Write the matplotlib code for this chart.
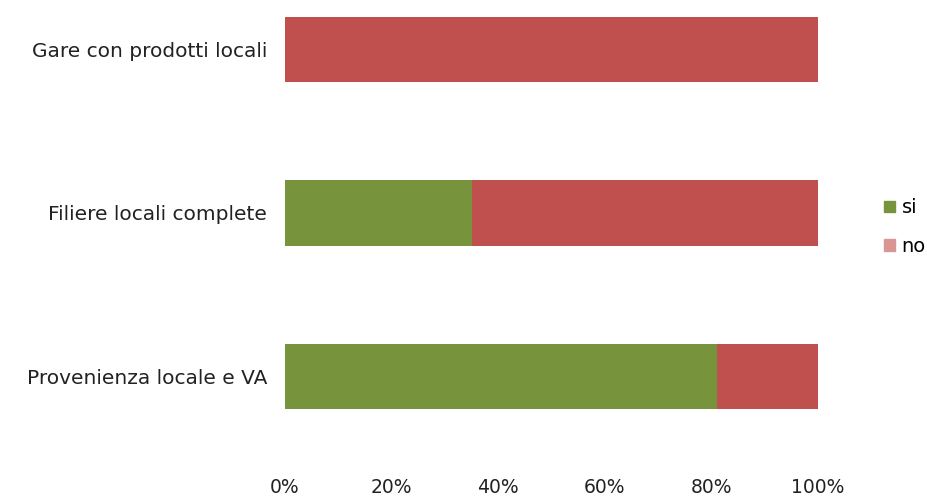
import matplotlib
matplotlib.use("Agg")
import matplotlib.pyplot as plt

categories = ["Provenienza locale e VA", "Filiere locali complete", "Gare con prodotti locali"]
si = [81, 35, 0]
no = [19, 65, 100]
xticks = [0, 20, 40, 60, 80, 100]
xticklabels = ["0%", "20%", "40%", "60%", "80%", "100%"]

plt.rcParams['font.family'] = ['DejaVu Sans']

W, H = 928, 496
fig = plt.figure(figsize=(W / 100, H / 100), dpi=100)
ax = fig.add_axes([285 / W, 36 / H, (818 - 285) / W, 460 / H])

green = "#77933C"
red = "#C0504D"
pos = list(range(len(categories)))
ax.barh(pos, si, height=0.4, color=green, label="si")
ax.barh(pos, no, left=si, height=0.4, color=red, label="no")

ax.set_xlim(0, 100)
ax.set_ylim(-0.511, 2.303)
ax.set_yticks(pos)
ax.set_yticklabels(categories, fontsize=14.5, color="#222222")
ax.set_xticks(xticks)
ax.set_xticklabels(xticklabels, fontsize=13.5, color="#222222")
ax.tick_params(axis="both", length=0)
ax.tick_params(axis="y", pad=13)
ax.tick_params(axis="x", pad=13)
for s in ax.spines.values():
    s.set_visible(False)

from matplotlib.patches import Patch
handles = [Patch(color=green, label="si"), Patch(color="#D99694", label="no")]
fig.legend(handles=handles, loc="center left", bbox_to_anchor=(884 / W, 1 - 227 / H),
           frameon=False, fontsize=14, handlelength=0.55, handleheight=0.55,
           handletextpad=0.35, labelspacing=1.0, borderpad=0, borderaxespad=0)

fig.savefig("out.png", dpi=100)
